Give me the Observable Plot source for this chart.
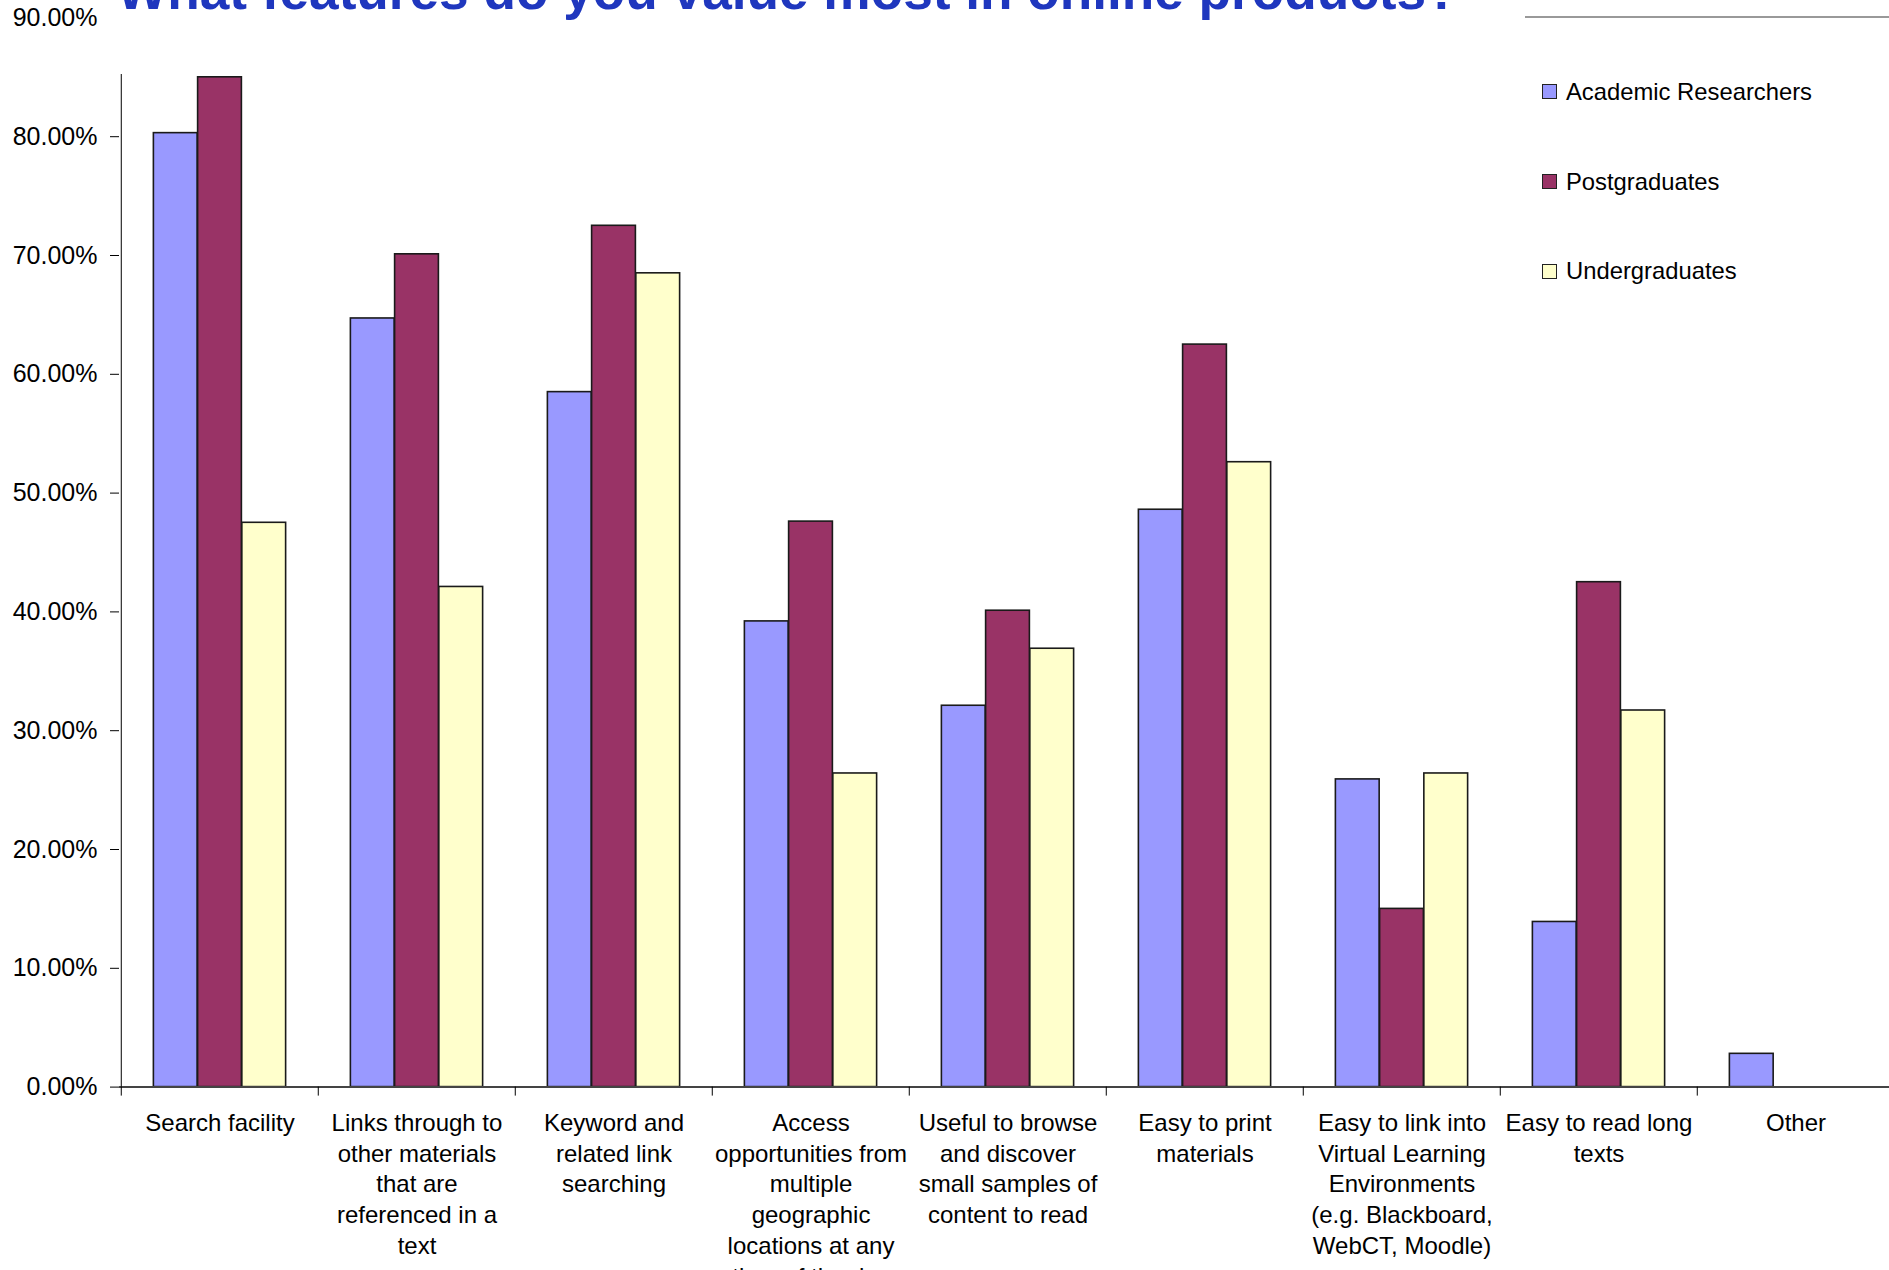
<!DOCTYPE html>
<html>
<head>
<meta charset="utf-8">
<script src="https://cdn.jsdelivr.net/npm/d3@7"></script>
<script src="https://cdn.jsdelivr.net/npm/@observablehq/plot@0.6"></script>
<style>
html, body { margin: 0; padding: 0; background: #fff; }
#wrap { position: relative; width: 1889px; height: 1270px; overflow: hidden; font-family: "Liberation Sans", Arial, sans-serif; }
#chart svg { display: block; }
#titlebox { position: absolute; left: 105px; top: 0; width: 1410px; height: 74px; background: #fff; overflow: hidden; }
#titlebox span { position: absolute; left: 12px; top: -36px; font-size: 53.2px; line-height: 53px; font-weight: bold; color: #1f37be; white-space: nowrap; }
#topline { position: absolute; left: 1525px; top: 16px; width: 364px; height: 2px; background: #999; }
#legend { position: absolute; left: 1542px; top: 0; }
.item { position: absolute; left: 0; height: 30px; display: flex; align-items: center; white-space: nowrap; font-size: 23.8px; color: #000; }
.sw { display: inline-block; box-sizing: border-box; width: 15px; height: 15px; border: 1.5px solid #222; margin-right: 9px; }
</style>
</head>
<body>
<div id="wrap">
  <div id="chart"></div>
  <div id="titlebox"><span id="title"></span></div>
  <div id="topline"></div>
  <div id="legend"></div>
</div>
<script>
const titleText = "What features do you value most in online products?";
const categories = [
  "Search facility",
  "Links through to other materials that are referenced in a text",
  "Keyword and related link searching",
  "Access opportunities from multiple geographic locations at any time of the day",
  "Useful to browse and discover small samples of content to read",
  "Easy to print materials",
  "Easy to link into Virtual Learning Environments (e.g. Blackboard, WebCT, Moodle)",
  "Easy to read long texts",
  "Other"
];
const categoryLabels = [
  "Search facility",
  "Links through to\nother materials\nthat are\nreferenced in a\ntext",
  "Keyword and\nrelated link\nsearching",
  "Access\nopportunities from\nmultiple\ngeographic\nlocations at any\ntime of the day",
  "Useful to browse\nand discover\nsmall samples of\ncontent to read",
  "Easy to print\nmaterials",
  "Easy to link into\nVirtual Learning\nEnvironments\n(e.g. Blackboard,\nWebCT, Moodle)",
  "Easy to read long\ntexts",
  "Other"
];
const series = ["Academic Researchers", "Postgraduates", "Undergraduates"];
const academic  = [80.3, 64.7, 58.5, 39.2, 32.1, 48.6, 25.9, 13.9, 2.8];
const postgrad  = [85.0, 70.1, 72.5, 47.6, 40.1, 62.5, 15.0, 42.5, 0];
const undergrad = [47.5, 42.1, 68.5, 26.4, 36.9, 52.6, 26.4, 31.7, 0];
const colors = ["#9999FF", "#993366", "#FFFFCC"];
const yTicks = [0, 10, 20, 30, 40, 50, 60, 70, 80, 90];

document.getElementById("title").textContent = titleText;

const values = [academic, postgrad, undergrad];
const rows = series.flatMap((s, i) => categories.map((c, j) => ({category: c, series: s, value: values[i][j]})));

const W = 1889, H = 1270;
const xStart = 119, xEnd = 1896;
const step = (xEnd - xStart) / categories.length;
const pad = step * 0.164;
const barW = step * 0.224;

const chart = Plot.plot({
  width: W,
  height: H,
  marginLeft: xStart,
  marginRight: 0,
  marginTop: 17.4,
  marginBottom: 183.4,
  style: {fontFamily: "'Liberation Sans', Arial, sans-serif", color: "#000", background: "#fff"},
  x: {domain: categories, range: [xStart, xEnd], padding: 0, label: null},
  y: {domain: [0, 90], label: null},
  marks: [
    ...series.map((s, i) => Plot.barY(rows.filter(d => d.series === s && d.value > 0), {
      x: "category",
      y: "value",
      fill: colors[i],
      stroke: "#1a1a1a",
      strokeWidth: 1.6,
      insetLeft: pad + i * barW,
      insetRight: step - pad - (i + 1) * barW
    })),
    Plot.ruleY([0], {stroke: "#444", strokeWidth: 2}),
    Plot.ruleX([categories[0]], {x: d => d, y1: 0, y2: 90, dx: -step / 2, stroke: "#000", strokeWidth: 1}),
    Plot.axisY({ticks: yTicks, tickFormat: d => d.toFixed(2) + "%", tickSize: 9, tickPadding: 13, fontSize: 25, label: null}),
    Plot.axisX({tickSize: 9, tickFormat: () => "", dx: -step / 2, label: null}),
    Plot.axisX({tickSize: 0, tickPadding: 22, fontSize: 24, lineHeight: 1.28,
      tickFormat: d => categoryLabels[categories.indexOf(d)], label: null})
  ]
});
document.getElementById("chart").appendChild(chart);

const legendCenters = [91.5, 181.5, 271];
const legend = document.getElementById("legend");
series.forEach((s, i) => {
  const item = document.createElement("div");
  item.className = "item";
  item.style.top = (legendCenters[i] - 15) + "px";
  const sw = document.createElement("span");
  sw.className = "sw";
  sw.style.background = colors[i];
  item.appendChild(sw);
  item.appendChild(document.createTextNode(s));
  legend.appendChild(item);
});
</script>
</body>
</html>
